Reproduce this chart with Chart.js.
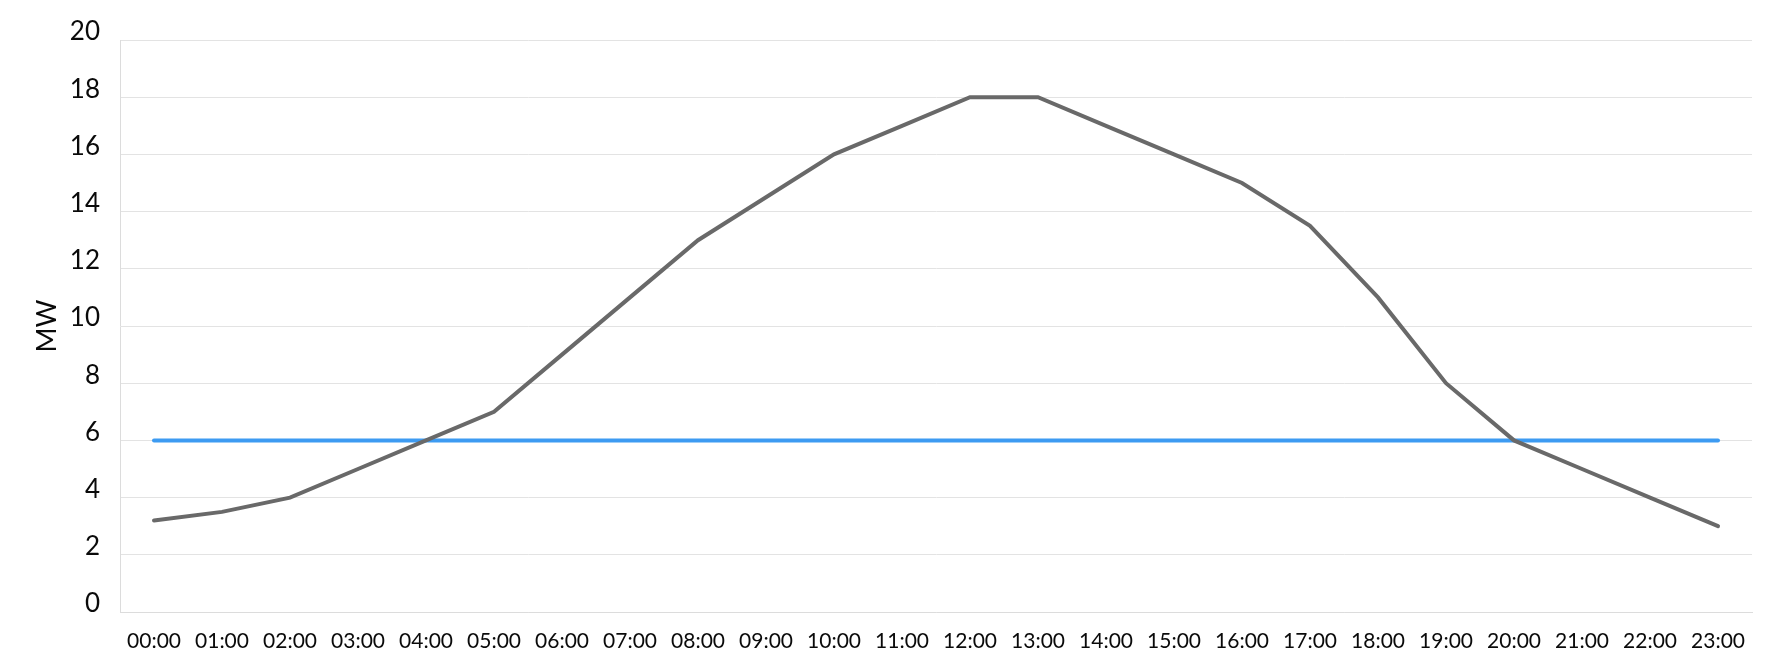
<!DOCTYPE html>
<html>
<head>
<meta charset="utf-8">
<script src="https://cdn.jsdelivr.net/npm/chart.js@4/dist/chart.umd.min.js"></script>
<style>
  html, body { margin: 0; padding: 0; background: #fff; }
  #wrap { width: 1777px; height: 658px; position: relative; }
</style>
</head>
<body>
<div id="wrap"><canvas id="chart"></canvas></div>
<script>
const FONT = "'Lato', 'Open Sans', sans-serif";
const TEXT_COLOR = "#0a0a0a";
const GRID_COLOR = "#e3e3e3";

const hours = [
  "00:00", "01:00", "02:00", "03:00", "04:00", "05:00", "06:00", "07:00",
  "08:00", "09:00", "10:00", "11:00", "12:00", "13:00", "14:00", "15:00",
  "16:00", "17:00", "18:00", "19:00", "20:00", "21:00", "22:00", "23:00",
];
const demand = [3.2, 3.5, 4, 5, 6, 7, 9, 11, 13, 14.5, 16, 17, 18, 18, 17, 16, 15, 13.5, 11, 8, 6, 5, 4, 3];
const baseline = [6, 6, 6, 6, 6, 6, 6, 6, 6, 6, 6, 6, 6, 6, 6, 6, 6, 6, 6, 6, 6, 6, 6, 6];
const yTicks = [0, 2, 4, 6, 8, 10, 12, 14, 16, 18, 20];

new Chart(document.getElementById("chart"), {
  type: "line",
  data: {
    labels: hours,
    datasets: [
      {
        label: "Demand",
        data: demand,
        borderColor: "#696969",
        borderWidth: 4,
        pointRadius: 0,
        tension: 0,
        borderCapStyle: "round",
      },
      {
        label: "Baseline",
        data: baseline,
        borderColor: "#3d9bf2",
        borderWidth: 4,
        pointRadius: 0,
        tension: 0,
        borderCapStyle: "round",
      },
    ],
  },
  options: {
    responsive: true,
    maintainAspectRatio: false,
    animation: false,
    layout: { padding: { top: 40, right: 25, bottom: 0, left: 0 } },
    plugins: {
      legend: { display: false },
      tooltip: { enabled: false },
    },
    scales: {
      x: {
        offset: true,
        grid: { display: false, drawTicks: false },
        border: { display: true, color: "#dcdcdc", width: 1 },
        ticks: {
          color: TEXT_COLOR,
          font: { family: FONT, size: 21 },
          maxRotation: 0,
          autoSkip: false,
          padding: 17,
        },
        // labels sit close to the bottom edge, so fix the axis height
        afterFit: (scale) => {
          scale.height = 46;
        },
      },
      y: {
        min: 0,
        max: 20,
        afterBuildTicks: (axis) => {
          axis.ticks = yTicks.map((v) => ({ value: v }));
        },
        afterFit: (scale) => {
          scale.width = 120;
        },
        grid: { color: GRID_COLOR, drawTicks: false, lineWidth: 1 },
        border: { display: true, color: "#dcdcdc", width: 1 },
        ticks: {
          color: TEXT_COLOR,
          font: { family: FONT, size: 26 },
          padding: 20,
          labelOffset: -8,
        },
        title: {
          display: true,
          text: "MW",
          color: TEXT_COLOR,
          font: { family: FONT, size: 27 },
          padding: { top: 31, bottom: 0 },
        },
      },
    },
  },
});
</script>
</body>
</html>
